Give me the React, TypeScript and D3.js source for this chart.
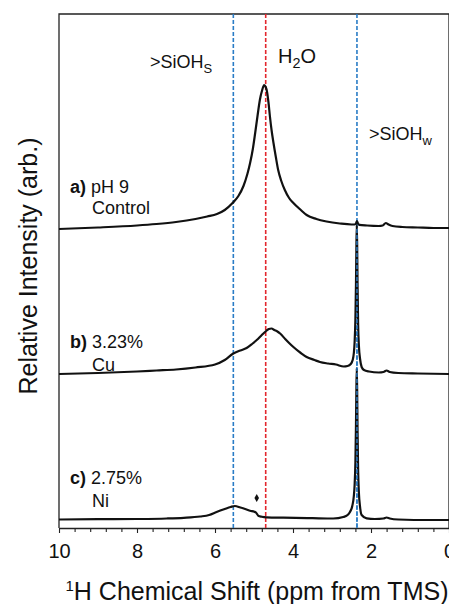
import { useEffect, useRef } from 'react'
import * as d3 from 'd3'

// [ppm, intensity above the trace's own baseline]
const traceA: [number, number][] = [
  [10, 0], [9, 1.5], [8, 3.5], [7.5, 5], [7, 7], [6.5, 10], [6.2, 12.5], [5.95, 15],
  [5.75, 19], [5.55, 26], [5.4, 33], [5.27, 43], [5.17, 55], [5.1, 66], [5.03, 80],
  [4.97, 96], [4.91, 113], [4.85, 129], [4.79, 139], [4.74, 144], [4.7, 142], [4.67, 138],
  [4.63, 127], [4.59, 112], [4.55, 99], [4.5, 86], [4.44, 72], [4.38, 59], [4.3, 48],
  [4.21, 39], [4.1, 31], [3.99, 26], [3.8, 19], [3.65, 14], [3.4, 10], [3.14, 7.5],
  [2.8, 5.5], [2.5, 4.5], [2.42, 4.5], [2.38, 6], [2.36, 8], [2.34, 6], [2.3, 4.2],
  [2.1, 3.5], [1.8, 3], [1.7, 3.5], [1.62, 6], [1.55, 4.5], [1.45, 3], [1.2, 2],
  [0.8, 1.5], [0.4, 1], [0, 1],
]

const traceB: [number, number][] = [
  [10, 0], [9, 1], [8, 2.5], [7.5, 3.5], [7, 4.5], [6.5, 6.5], [6, 9.5], [5.75, 14],
  [5.53, 20.5], [5.35, 23.5], [5.19, 26], [5.05, 30], [4.93, 34], [4.8, 39], [4.69, 43],
  [4.62, 45], [4.55, 45.5], [4.48, 44], [4.4, 42.5], [4.33, 40.5], [4.2, 35], [4.1, 31],
  [3.99, 27], [3.8, 21], [3.65, 17], [3.45, 14], [3.31, 12], [3.1, 10.5], [2.9, 9.5],
  [2.7, 7.5], [2.6, 8], [2.52, 10], [2.47, 14], [2.44, 21], [2.42, 32], [2.4, 55],
  [2.385, 90], [2.375, 125], [2.365, 149], [2.355, 130], [2.345, 90], [2.33, 50],
  [2.31, 28], [2.28, 15], [2.24, 7], [2.18, 4], [2.05, 2.5], [1.8, 1.5], [1.68, 2],
  [1.6, 3.5], [1.52, 2], [1.3, 1], [0.8, 0.5], [0, 0],
]

const traceC: [number, number][] = [
  [10, 0.5], [9, 0.8], [8, 1], [7.24, 1.5], [6.8, 2.2], [6.38, 3.5], [6.15, 5], [5.96, 8],
  [5.75, 11], [5.6, 13], [5.49, 14], [5.35, 12.5], [5.19, 10.5], [5.1, 9.3], [4.99, 8.3],
  [4.95, 7.5], [4.89, 4.3], [4.8, 3.3], [4.67, 2.7], [4.25, 2.3], [3.5, 1.8], [2.97, 1.5],
  [2.71, 3], [2.6, 5], [2.54, 8], [2.48, 14], [2.44, 24], [2.42, 35], [2.4, 58],
  [2.385, 95], [2.375, 130], [2.365, 152], [2.355, 130], [2.345, 90], [2.33, 50],
  [2.31, 27], [2.28, 13], [2.24, 5], [2.11, 1.7], [1.9, 1], [1.68, 1.5], [1.6, 2.5],
  [1.52, 1.5], [1.3, 0.5], [0.5, 0], [0, 0],
]

const traceOffsets = [299, 154, 8]
const traceLetters = ['a)', 'b)', 'c)']
const traceLine1 = ['pH 9', '3.23%', '2.75%']
const traceLine2 = ['Control', 'Cu', 'Ni']

const majorTicks = [10, 8, 6, 4, 2, 0]
const refLines = [
  { ppm: 5.53, color: '#2a7cc6' },
  { ppm: 4.7, color: '#e3262d' },
  { ppm: 2.36, color: '#2a7cc6' },
]
const marker: [number, number] = [4.93, 22]

export default function App() {
  const ref = useRef<SVGSVGElement>(null)

  useEffect(() => {
    const W = 449
    const H = 604
    const margin = { top: 14, right: 0, bottom: 76, left: 59 }
    const font = 'Arial, "Liberation Sans", sans-serif'

    const svg = d3.select(ref.current)
    svg.selectAll('*').remove()
    svg.attr('width', W).attr('height', H)

    const x = d3.scaleLinear().domain([10, 0]).range([margin.left, W - margin.right])
    const y = d3.scaleLinear().domain([0, 514]).range([H - margin.bottom, margin.top])
    const bottom = H - margin.bottom

    // frame
    svg.append('path')
      .attr('d', `M${x(10)},${bottom}V${margin.top}H${x(0)}V${bottom}`)
      .attr('fill', 'none')
      .attr('stroke', '#222')
      .attr('stroke-width', 1.3)

    // x axis
    const minor = d3.range(0, 50).map(i => 10 - i * 0.4).filter(v => v >= 0 && !majorTicks.includes(Math.round(v * 10) / 10))
    svg.append('g')
      .attr('transform', `translate(0,${bottom})`)
      .call(d3.axisBottom(x).tickValues(minor).tickSize(4).tickFormat(() => ''))
      .call(g => g.select('.domain').remove())
      .selectAll('line').attr('stroke', '#222').attr('stroke-width', 1.1)

    const ax = svg.append('g')
      .attr('transform', `translate(0,${bottom})`)
      .call(d3.axisBottom(x).tickValues(majorTicks).tickSize(5).tickPadding(11).tickSizeOuter(0).tickFormat(d3.format('d')))
    ax.select('.domain').attr('stroke', '#222').attr('stroke-width', 1.3)
    ax.selectAll('line').attr('stroke', '#222').attr('stroke-width', 1.1)
    ax.selectAll('text').attr('font-family', font).attr('font-size', 20).attr('fill', '#111')

    // reference dashed lines
    svg.selectAll('.ref')
      .data(refLines)
      .join('line')
      .attr('x1', d => x(d.ppm)).attr('x2', d => x(d.ppm))
      .attr('y1', margin.top).attr('y2', bottom)
      .attr('stroke', d => d.color)
      .attr('stroke-width', 1.6)
      .attr('stroke-dasharray', '4,2')

    // spectra
    const traces = [traceA, traceB, traceC]
    traces.forEach((t, i) => {
      const line = d3.line<[number, number]>()
        .x(d => x(d[0]))
        .y(d => y(traceOffsets[i] + d[1]))
        .curve(d3.curveMonotoneX)
      svg.append('path')
        .datum(t)
        .attr('d', line)
        .attr('fill', 'none')
        .attr('stroke', '#111')
        .attr('stroke-width', 2.2)
        .attr('stroke-linejoin', 'round')
    })

    // dashed line drawn again over the narrow peaks, as in the figure
    svg.append('line')
      .attr('x1', x(2.36)).attr('x2', x(2.36))
      .attr('y1', y(traceOffsets[0])).attr('y2', bottom)
      .attr('stroke', '#2a7cc6').attr('stroke-width', 1.4).attr('stroke-dasharray', '4,2')

    // marker
    svg.append('path')
      .attr('d', d3.symbol(d3.symbolDiamond, 18)())
      .attr('transform', `translate(${x(marker[0])},${y(traceOffsets[2] + marker[1])})`)
      .attr('fill', '#111')

    // trace labels
    const labelY = [[193, 214], [348, 371], [484, 507]]
    traces.forEach((_, i) => {
      const t1 = svg.append('text')
        .attr('x', 70).attr('y', labelY[i][0])
        .attr('font-family', font).attr('font-size', 18).attr('fill', '#111')
      t1.append('tspan').attr('font-weight', 'bold').text(traceLetters[i])
      t1.append('tspan').text(' ' + traceLine1[i])
      svg.append('text')
        .attr('x', 92).attr('y', labelY[i][1])
        .attr('font-family', font).attr('font-size', 18).attr('fill', '#111')
        .text(traceLine2[i])
    })

    // peak annotations
    const sub = (px: number, py: number, size: number, main: string, s: string, tail = '') => {
      const t = svg.append('text')
        .attr('x', px).attr('y', py)
        .attr('font-family', font).attr('font-size', size).attr('fill', '#111')
      t.append('tspan').text(main)
      t.append('tspan').attr('font-size', size * 0.72).attr('dy', 5).text(s)
      if (tail) t.append('tspan').attr('dy', -5).text(tail)
    }
    sub(150, 68, 18, '>SiOH', 'S')
    sub(278, 63, 20, 'H', '2', 'O')
    sub(369, 140, 18, '>SiOH', 'w')

    // axis titles
    const xt = svg.append('text')
      .attr('x', 257).attr('y', 600)
      .attr('text-anchor', 'middle')
      .attr('font-family', font).attr('font-size', 25).attr('fill', '#111')
    xt.append('tspan').attr('font-size', 15).attr('dy', -9).text('1')
    xt.append('tspan').attr('dy', 9).text('H Chemical Shift (ppm from TMS)')

    svg.append('text')
      .attr('transform', `translate(37,${266}) rotate(-90)`)
      .attr('text-anchor', 'middle')
      .attr('font-family', font).attr('font-size', 25).attr('fill', '#111')
      .text('Relative Intensity (arb.)')
  }, [])

  return <svg ref={ref} style={{ position: 'absolute', left: 0, top: 0, background: '#fff' }} />
}
